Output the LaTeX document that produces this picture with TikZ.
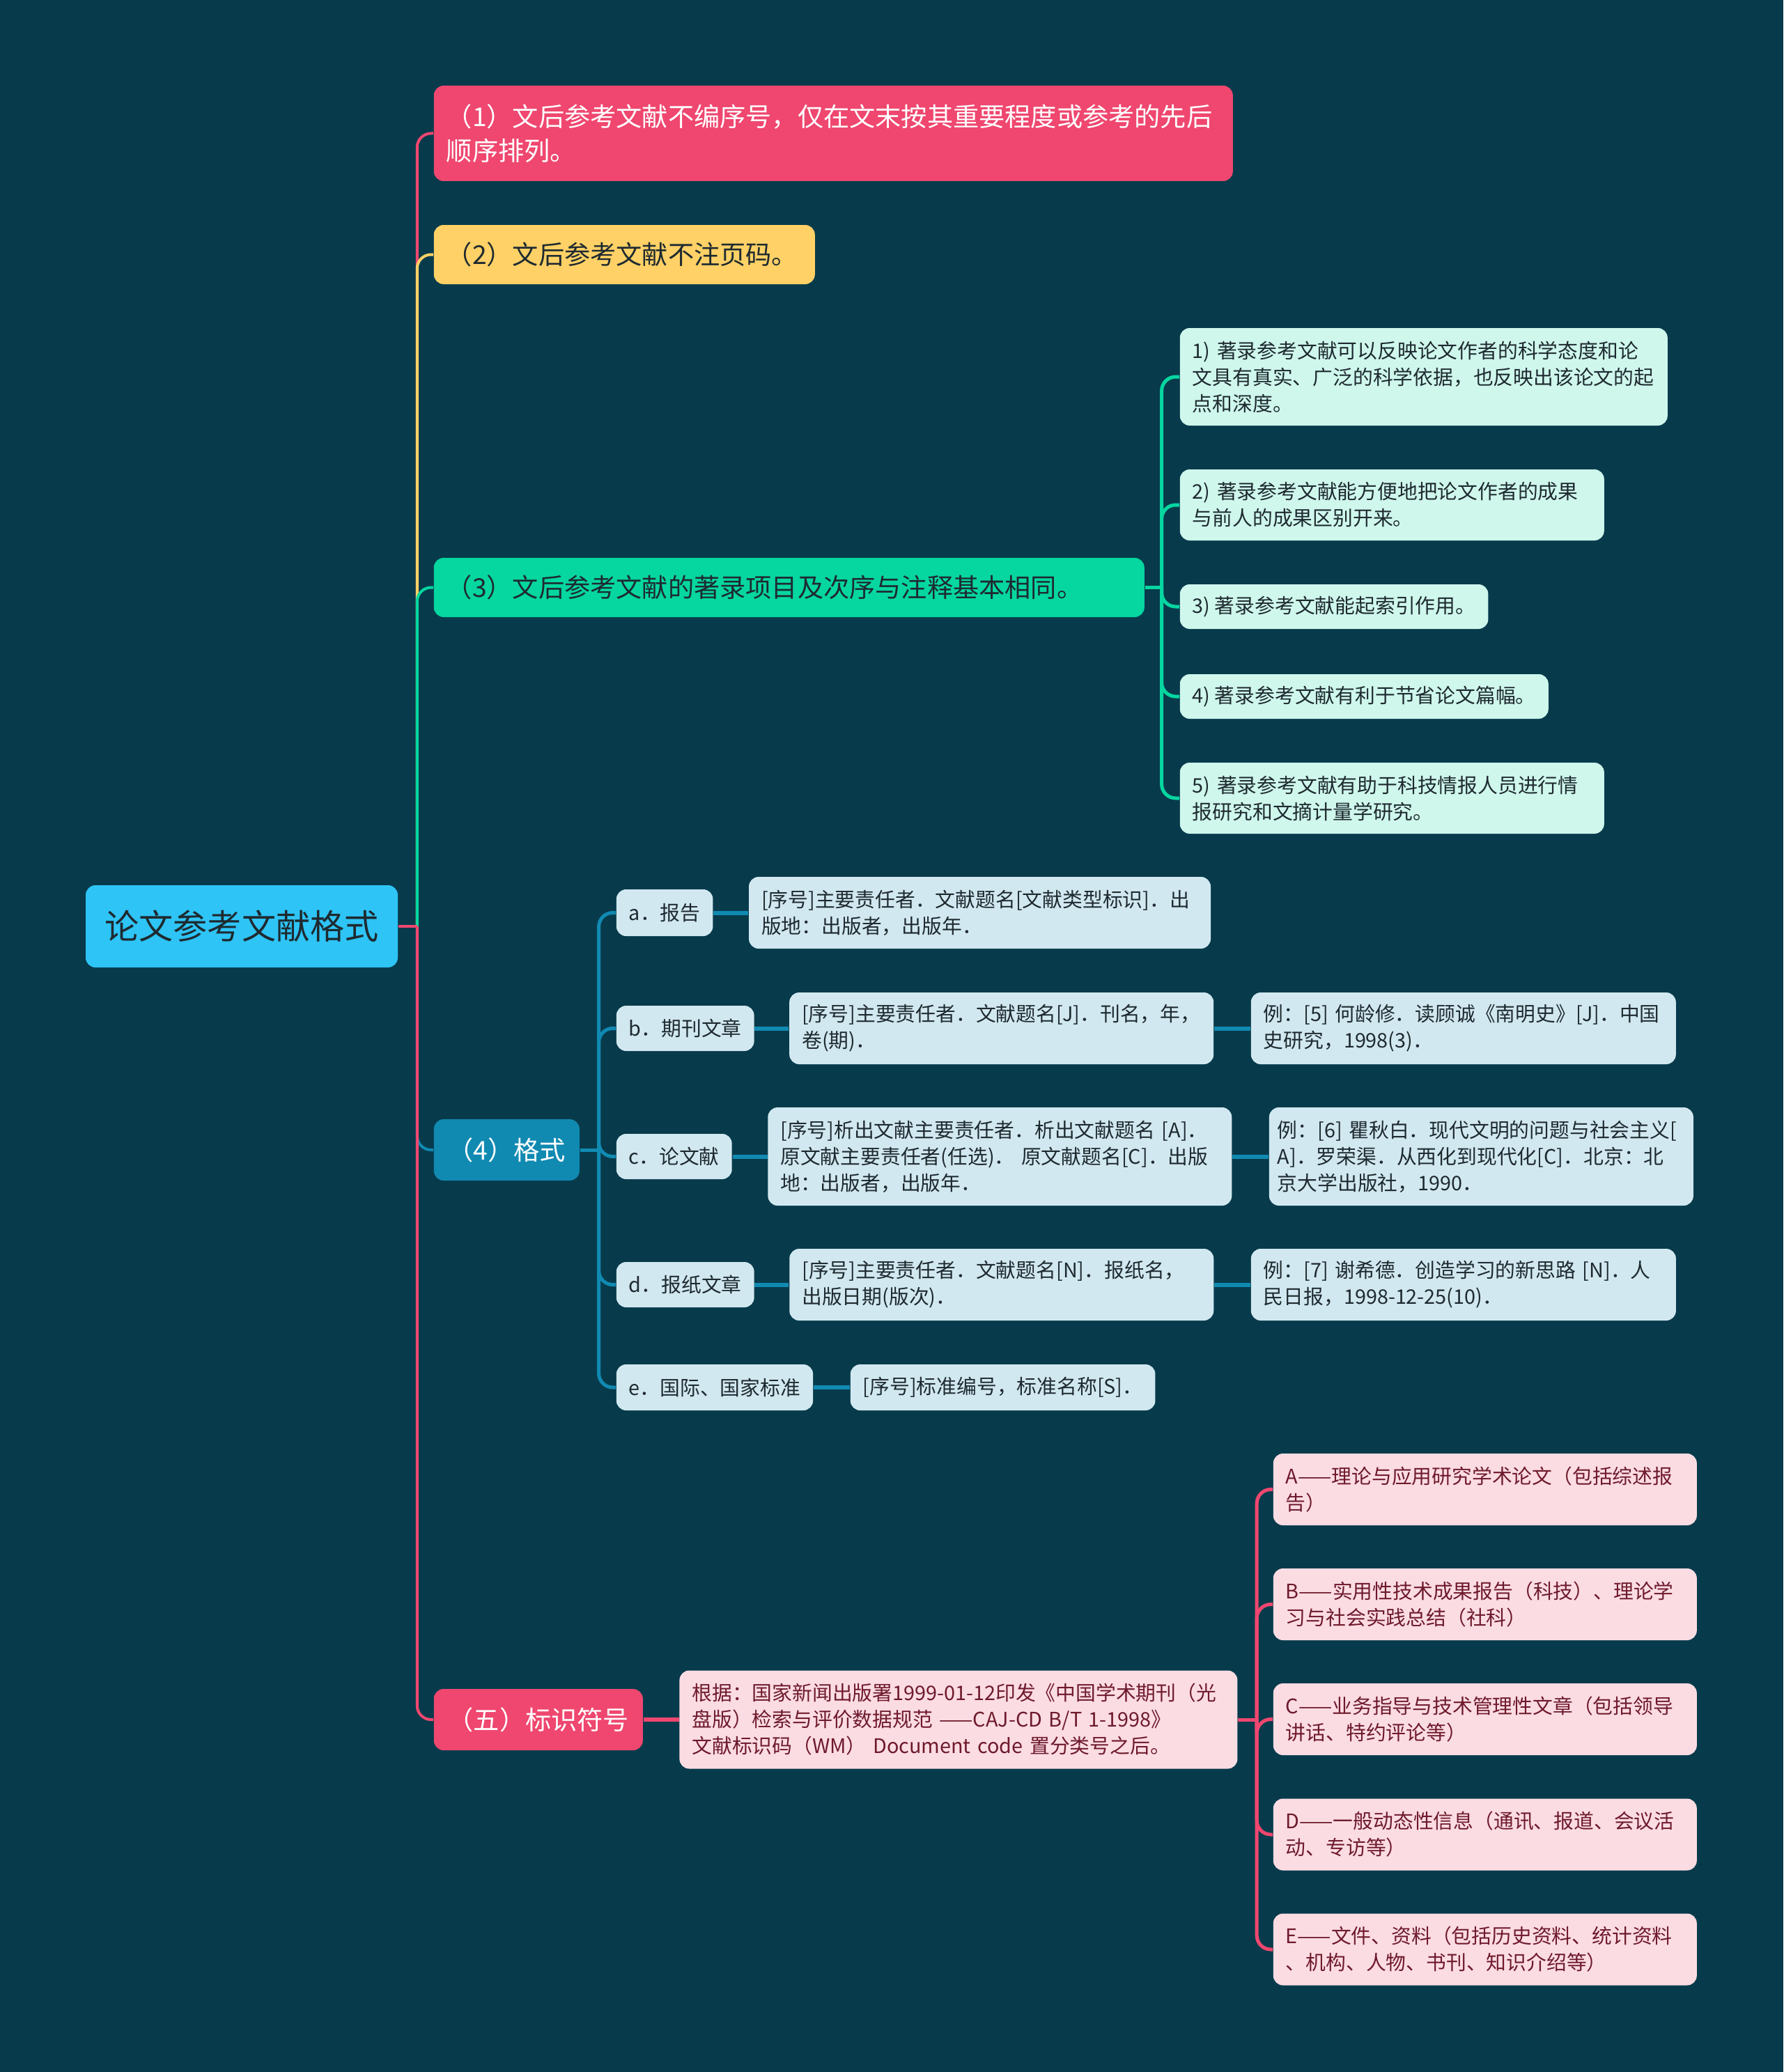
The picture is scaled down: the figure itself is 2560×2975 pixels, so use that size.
\documentclass[tikz,border=0pt]{standalone}
\usepackage{fontspec}
\setmainfont{Noto Sans CJK SC}
\usepackage{tikz}
\usetikzlibrary{positioning}
\definecolor{bg}{HTML}{073B4C}
\definecolor{rootblue}{HTML}{2EC4F6}
\definecolor{redc}{HTML}{EF476F}
\definecolor{yellowc}{HTML}{FFD166}
\definecolor{greenc}{HTML}{06D6A0}
\definecolor{bluec}{HTML}{118AB2}
\definecolor{ink}{HTML}{1E2A30}
\definecolor{softgreen}{HTML}{CFF7EC}
\definecolor{softblue}{HTML}{D2E8F0}
\definecolor{softpink}{HTML}{FCDCE3}
\definecolor{wine}{HTML}{6E1A2C}

\begin{document}
\begin{tikzpicture}[
  x=0.25pt, y=-0.25pt,
  every node/.style={inner xsep=4.5pt, inner ysep=2pt, rounded corners=3.5pt},
  rootbox/.style={fill=rootblue, text=ink, font=\fontsize{12.3pt}{15pt}\selectfont, minimum width=112pt, minimum height=29.5pt},
  topic/.style={anchor=west, align=left, font=\fontsize{9.3pt}{12.25pt}\selectfont},
  leaf/.style={anchor=west, align=left, font=\fontsize{7.2pt}{9.5pt}\selectfont},
  why/.style={leaf, fill=softgreen, text=ink},
  fmt/.style={leaf, fill=softblue, text=ink},
  code/.style={leaf, fill=softpink, text=wine},
  link/.style={line width=1pt, rounded corners=5pt},
  sub/.style={line width=1.25pt, rounded corners=5pt}
]
\fill[bg] (0,0) rectangle (2560,2975);

% root and first level
\node[rootbox] (root) at (347,1330) {论文参考文献格式};
\node[topic, fill=redc, text=white, text width=277.75pt, minimum height=34.25pt] (t1) at (622,191.5) {（1）文后参考文献不编序号，仅在文末按其重要程度或参考的先后\\顺序排列。};
\node[topic, fill=yellowc, text=ink, text width=127.75pt, minimum height=21.25pt] (t2) at (622,365.5) {（2）文后参考文献不注页码。};
\node[topic, fill=greenc, text=ink, text width=246pt, minimum height=21.25pt] (t3) at (622,843.5) {（3）文后参考文献的著录项目及次序与注释基本相同。};
\node[topic, fill=bluec, text=white, minimum width=52.25pt, minimum height=22pt] (t4) at (622,1651) {（4）格式};
\node[topic, fill=redc, text=white, minimum width=75pt, minimum height=22pt] (t5) at (622,2469) {（五）标识符号};

% (3)
\node[why, text width=166pt, minimum height=35pt] (c1) at (1693,541) {1) 著录参考文献可以反映论文作者的科学态度和论\\文具有真实、广泛的科学依据，也反映出该论文的起\\点和深度。};
\node[why, text width=143.25pt, minimum height=25.5pt] (c2) at (1693,725) {2) 著录参考文献能方便地把论文作者的成果\\与前人的成果区别开来。};
\node[why, minimum width=110.5pt, minimum height=16pt] (c3) at (1693,871) {3) 著录参考文献能起索引作用。};
\node[why, minimum width=131.75pt, minimum height=16pt] (c4) at (1693,1000) {4) 著录参考文献有利于节省论文篇幅。};
\node[why, text width=143.25pt, minimum height=25.5pt] (c5) at (1693,1146) {5) 著录参考文献有助于科技情报人员进行情\\报研究和文摘计量学研究。};

% (4)
\node[fmt, minimum width=33.25pt, minimum height=16.75pt] (fa) at (884,1310.5) {a．报告};
\node[fmt, text width=156.75pt, minimum height=25.75pt, right=12.5pt of fa] (fad) {[序号]主要责任者．文献题名[文献类型标识]．出\\版地：出版者，出版年．};
\node[fmt, minimum width=48.5pt, minimum height=16.25pt] (fb) at (884,1476.5) {b．期刊文章};
\node[fmt, text width=143.25pt, minimum height=25.75pt, right=12.25pt of fb] (fbd) {[序号]主要责任者．文献题名[J]．刊名，年，\\卷(期)．};
\node[fmt, text width=143.5pt, minimum height=25.75pt, right=13pt of fbd] (fbe) {例：[5] 何龄修．读顾诚《南明史》[J]．中国\\史研究，1998(3)．};
\node[fmt, minimum width=40pt, minimum height=16.25pt] (fc) at (884,1660.5) {c．论文献};
\node[fmt, text width=157.5pt, minimum height=35.25pt, right=12.5pt of fc] (fcd) {[序号]析出文献主要责任者．析出文献题名 [A]．\\原文献主要责任者(任选)．\ 原文献题名[C]．出版\\地：出版者，出版年．};
\node[fmt, inner xsep=3pt, text width=146.25pt, minimum height=35.25pt, right=13pt of fcd] (fce) {例：[6]~瞿秋白．现代文明的问题与社会主义[\\A]．罗荣渠．从西化到现代化[C]．北京：北\\京大学出版社，1990．};
\node[fmt, minimum width=48.5pt, minimum height=16.25pt] (fd) at (884,1844.5) {d．报纸文章};
\node[fmt, text width=143.25pt, minimum height=25.75pt, right=12.25pt of fd] (fdd) {[序号]主要责任者．文献题名[N]．报纸名，\\出版日期(版次)．};
\node[fmt, text width=143.5pt, minimum height=25.75pt, right=13pt of fdd] (fde) {例：[7] 谢希德．创造学习的新思路 [N]．人\\民日报，1998-12-25(10)．};
\node[fmt, minimum width=69.25pt, minimum height=16.5pt] (fe) at (884,1992) {e．国际、国家标准};
\node[fmt, minimum width=107.5pt, minimum height=16.5pt, right=13pt of fe] (fed) {[序号]标准编号，标准名称[S]．};

% (五)
\node[code, text width=191.25pt, minimum height=35.25pt, right=12.75pt of t5] (basis) {根据：国家新闻出版署1999-01-12印发《中国学术期刊（光\\盘版）检索与评价数据规范 ——CAJ-CD B/T 1-1998》\\文献标识码（WM） Document code 置分类号之后。};
\node[code, text width=143pt, minimum height=25.75pt] (mA) at (1827,2138.5) {A——理论与应用研究学术论文（包括综述报\\告）};
\node[code, text width=143pt, minimum height=25.75pt] (mB) at (1827,2303.5) {B——实用性技术成果报告（科技）、理论学\\习与社会实践总结（社科）};
\node[code, text width=143pt, minimum height=25.75pt] (mC) at (1827,2468.5) {C——业务指导与技术管理性文章（包括领导\\讲话、特约评论等）};
\node[code, text width=143pt, minimum height=25.75pt] (mD) at (1827,2634) {D——一般动态性信息（通讯、报道、会议活\\动、专访等）};
\node[code, text width=143pt, minimum height=25.75pt] (mE) at (1827,2799) {E——文件、资料（包括历史资料、统计资料\\、机构、人物、书刊、知识介绍等）};

% connectors
\coordinate (t0) at ([xshift=6.75pt]root.east);
\foreach \n/\c in {t1/redc, t2/yellowc, t3/greenc, t4/bluec, t5/redc}
  \draw[link, \c] (t0) |- (\n.west);
\draw[link, redc] (root.east) -- (t0);

\coordinate (s3) at ([xshift=6pt]t3.east);
\draw[sub, greenc] (t3.east) -- (s3);
\foreach \n in {1,...,5}
  \draw[sub, greenc] (s3) |- (c\n.west);

\coordinate (s4) at ([xshift=6.75pt]t4.east);
\draw[sub, bluec] (t4.east) -- (s4);
\foreach \n in {a,...,e}
  \draw[sub, bluec] (s4) |- (f\n.west);
\foreach \p/\q in {fa/fad, fb/fbd, fbd/fbe, fc/fcd, fcd/fce, fd/fdd, fdd/fde, fe/fed}
  \draw[line width=1.5pt, bluec] (\p.east) -- (\q.west);

\draw[line width=1.5pt, redc] (t5.east) -- (basis.west);
\coordinate (s5) at ([xshift=6.75pt]basis.east);
\draw[sub, redc] (basis.east) -- (s5);
\foreach \n in {A,...,E}
  \draw[sub, redc] (s5) |- (m\n.west);
\end{tikzpicture}
\end{document}
